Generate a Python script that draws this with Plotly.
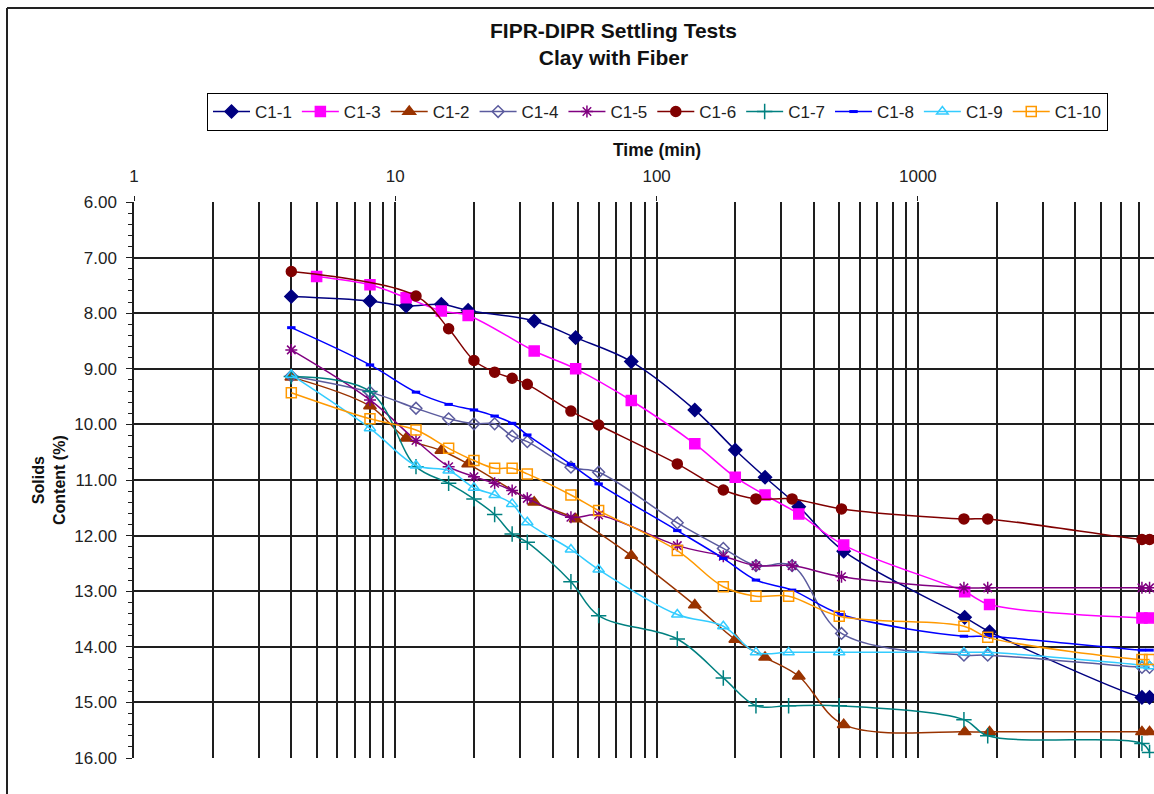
import plotly.graph_objects as go

# Sampling times (min) for each group of tests
TIME_A = [4, 8, 11, 15, 19, 34, 49, 80, 140, 200, 260, 350, 520, 1510, 1880, 7200, 7700]
TIME_C13 = [5, 8, 11, 15, 19, 34, 49, 80, 140, 200, 260, 350, 520, 1510, 1880, 7200, 7700]
TIME_B = [4, 8, 12, 16, 20, 24, 28, 32, 47, 60, 120, 180, 240, 330, 510, 1500, 1850, 7200, 7700]
TIME_C16 = [4, 12, 16, 20, 24, 28, 32, 47, 60, 120, 180, 240, 330, 510, 1500, 1850, 7200, 7700]
TIME_C = [4, 8, 12, 16, 20, 24, 28, 32, 47, 60, 120, 180, 240, 320, 500, 1500, 1850, 7200, 7700]

# Solids content (%) per test
C1_1 = [7.70, 7.78, 7.87, 7.84, 7.95, 8.14, 8.44, 8.87, 9.74, 10.46, 10.95, 11.48, 12.28, 13.47, 13.73, 14.91, 14.91]
C1_3 = [7.34, 7.49, 7.72, 7.96, 8.04, 8.68, 9.00, 9.57, 10.35, 10.95, 11.27, 11.61, 12.17, 13.01, 13.24, 13.48, 13.48]
C1_2 = [9.15, 9.67, 10.25, 10.47, 10.71, 11.40, 11.70, 12.36, 13.25, 13.87, 14.19, 14.53, 15.40, 15.53, 15.53, 15.53, 15.53]
C1_4 = [9.13, 9.42, 9.71, 9.90, 9.99, 9.99, 10.21, 10.31, 10.77, 10.86, 11.77, 12.23, 12.54, 12.54, 13.76, 14.15, 14.15, 14.37, 14.37]
C1_5 = [8.66, 9.56, 10.29, 10.76, 10.94, 11.06, 11.19, 11.33, 11.67, 11.63, 12.18, 12.37, 12.54, 12.54, 12.74, 12.94, 12.94, 12.94, 12.94]
C1_6 = [7.25, 7.69, 8.28, 8.85, 9.06, 9.17, 9.28, 9.76, 10.01, 10.71, 11.18, 11.34, 11.34, 11.52, 11.70, 11.70, 12.07, 12.07]
C1_7 = [9.14, 9.41, 10.76, 11.06, 11.34, 11.62, 11.97, 12.12, 12.83, 13.44, 13.86, 14.56, 15.06, 15.06, 15.06, 15.31, 15.60, 15.74, 15.90]
C1_8 = [8.26, 8.93, 9.42, 9.64, 9.74, 9.85, 9.98, 10.19, 10.72, 11.07, 11.91, 12.41, 12.80, 12.98, 13.42, 13.81, 13.81, 14.06, 14.06]
C1_9 = [9.11, 10.07, 10.74, 10.83, 11.14, 11.27, 11.43, 11.76, 12.25, 12.61, 13.42, 13.63, 14.10, 14.10, 14.10, 14.10, 14.10, 14.33, 14.35]
C1_10 = [9.43, 9.90, 10.10, 10.43, 10.65, 10.79, 10.79, 10.89, 11.27, 11.55, 12.27, 12.92, 13.09, 13.09, 13.45, 13.63, 13.83, 14.23, 14.23]

X_TICKS = [1, 10, 100, 1000]
X_TICK_TEXT = ["1", "10", "100", "1000"]
X_MINOR = [m * 10 ** e for e in range(4) for m in range(2, 10)]
Y_TICKS = [6, 7, 8, 9, 10, 11, 12, 13, 14, 15, 16]

FONT = "Liberation Sans, Arial, sans-serif"
GRID = "#1e1e1e"

series = [
    ("C1-1", TIME_A, C1_1, "#000080", "diamond", 10, 1.5),
    ("C1-3", TIME_C13, C1_3, "#FF00FF", "square", 10, 1.5),
    ("C1-2", TIME_A, C1_2, "#993300", "triangle-up", 11, 1.5),
    ("C1-4", TIME_B, C1_4, "#5B5B9E", "diamond-open", 9, 1.5),
    ("C1-5", TIME_B, C1_5, "#800080", "asterisk-open", 10, 1.5),
    ("C1-6", TIME_C16, C1_6, "#800000", "circle", 10, 1.5),
    ("C1-7", TIME_C, C1_7, "#008080", "cross-thin-open", 11, 1.5),
    ("C1-8", TIME_B, C1_8, "#0000FF", "line-ew-open", 6, 1.5),
    ("C1-9", TIME_C, C1_9, "#33CCFF", "triangle-up-open", 10, 1.5),
    ("C1-10", TIME_C, C1_10, "#FF9900", "square-open", 10, 1.5),
]

fig = go.Figure()
for name, t, v, color, symbol, size, lw in series:
    mline = dict(color=color, width=1.5)
    if symbol == "line-ew-open":
        mline = dict(color=color, width=3)
    fig.add_trace(go.Scatter(
        x=t, y=v, name=name, mode="lines+markers",
        line=dict(color=color, width=lw, shape="spline", smoothing=1.0),
        marker=dict(symbol=symbol, size=size, color=color, line=mline),
    ))

fig.update_layout(
    width=1154, height=794, autosize=False,
    margin=dict(l=134, r=0, t=202, b=36),
    paper_bgcolor="white", plot_bgcolor="white",
    font=dict(family=FONT, size=17, color="#222"),
    showlegend=True,
    legend=dict(
        orientation="h", x=(207 - 134) / 1020, xanchor="left",
        y=(758 - 93) / 556, yanchor="top",
        bordercolor="black", borderwidth=1, bgcolor="white",
        font=dict(family=FONT, size=17, color="#222"),
        itemwidth=37,
    ),
    xaxis=dict(
        type="log", side="top", range=[0, 3.9035],
        tickvals=X_TICKS, ticktext=X_TICK_TEXT,
        ticks="outside", ticklen=5, tickcolor=GRID, ticklabelstandoff=7,
        showgrid=True, gridcolor=GRID, gridwidth=1.5,
        showline=False, zeroline=False,
        minor=dict(tickvals=X_MINOR, showgrid=True, gridcolor=GRID, gridwidth=1.5, ticks=""),
        tickfont=dict(size=17, color="#222"),
    ),
    yaxis=dict(
        range=[16, 6], tickvals=Y_TICKS, tickformat=".2f",
        ticks="outside", ticklen=6, tickcolor=GRID, ticklabelstandoff=6,
        showgrid=True, gridcolor=GRID, gridwidth=1.5,
        showline=True, linecolor=GRID, linewidth=1.5, zeroline=False,
        minor=dict(dtick=0.2, ticks="outside", ticklen=4, tickcolor=GRID, showgrid=False),
        tickfont=dict(size=17, color="#222"),
    ),
    annotations=[
        dict(text="<b>FIPR-DIPR Settling Tests<br>Clay with Fiber</b>",
             xref="paper", yref="paper", x=(613 - 134) / 1020, y=(758 - 44) / 556,
             xanchor="center", yanchor="middle", showarrow=False,
             font=dict(family=FONT, size=21, color="#111")),
        dict(text="<b>Time (min)</b>", xref="paper", yref="paper",
             x=(657 - 134) / 1020, y=(758 - 150) / 556,
             xanchor="center", yanchor="middle", showarrow=False,
             font=dict(family=FONT, size=17.5, color="#111")),
        dict(text="<b>Solids<br>Content (%)</b>", xref="paper", yref="paper",
             x=(49 - 134) / 1020, y=0.5, textangle=-90,
             xanchor="center", yanchor="middle", showarrow=False,
             font=dict(family=FONT, size=16, color="#111")),
    ],
    shapes=[
        dict(type="line", xref="paper", yref="paper",
             x0=(7 - 134) / 1020, x1=(7 - 134) / 1020, y0=-0.2, y1=(758 - 8) / 556,
             line=dict(color="#222", width=2)),
        dict(type="line", xref="paper", yref="paper",
             x0=(7 - 134) / 1020, x1=1.2, y0=(758 - 8) / 556, y1=(758 - 8) / 556,
             line=dict(color="#222", width=2)),
    ],
)

fig.write_html("out.html")
